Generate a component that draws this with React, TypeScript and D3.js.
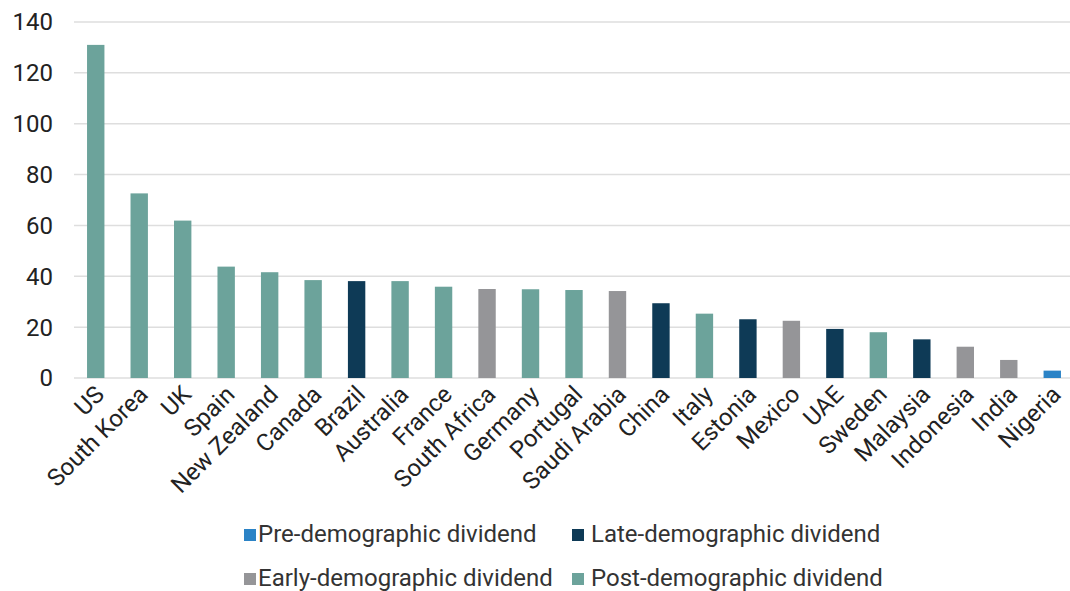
import React from 'react'
import * as d3 from 'd3'

// countries, in chart order
const countries = ['US', 'South Korea', 'UK', 'Spain', 'New Zealand', 'Canada', 'Brazil', 'Australia', 'France',
    'South Africa', 'Germany', 'Portugal', 'Saudi Arabia', 'China', 'Italy', 'Estonia', 'Mexico', 'UAE', 'Sweden',
    'Malaysia', 'Indonesia', 'India', 'Nigeria']
const values = [131, 72.6, 61.9, 43.8, 41.6, 38.5, 38.1, 38.1, 35.9, 35.0, 34.9, 34.6, 34.2, 29.4, 25.3, 23.1,
    22.5, 19.3, 18.0, 15.2, 12.3, 7.1, 2.9]
const groups = ['post', 'post', 'post', 'post', 'post', 'post', 'late', 'post', 'post', 'early', 'post', 'post',
    'early', 'late', 'post', 'late', 'early', 'late', 'post', 'late', 'early', 'early', 'pre']
const yTicks = [0, 20, 40, 60, 80, 100, 120, 140]

const groupKeys = ['pre', 'late', 'early', 'post']
const groupLabels = ['Pre-demographic dividend', 'Late-demographic dividend', 'Early-demographic dividend', 'Post-demographic dividend']
const groupColors = ['#2b83c6', '#0e3a56', '#959598', '#6ca39b']

const width = 1070, height = 591
const margin = { top: 22, right: -4, bottom: 213, left: 74 }

const App = () => {
    const x = d3.scaleBand()
        .domain(countries)
        .range([margin.left, width - margin.right])
        .paddingInner(0.6)
        .paddingOuter(0.3)
    const y = d3.scaleLinear()
        .domain([0, 140])
        .range([height - margin.bottom, margin.top])
    const color = d3.scaleOrdinal<string, string>().domain(groupKeys).range(groupColors)

    // legend slots (two rows, two columns)
    const legendPos = [[244, 534], [572, 534], [244, 578], [572, 578]]

    return (
        <svg width={width} height={height} style={{ position: 'absolute', left: 0, top: 0, fontFamily: 'Roboto, sans-serif' }}>
            <rect width={width} height={height} fill="#fff" />
            {yTicks.map(t => (
                <g key={t}>
                    <line x1={margin.left} x2={width} y1={y(t)} y2={y(t)} stroke="#dedede" strokeWidth={1.5} />
                    <text x={53} y={y(t)} dy="0.35em" textAnchor="end" fontSize={24} fill="#222">{t}</text>
                </g>
            ))}
            {countries.map((c, i) => (
                <rect key={c} x={x(c)} y={y(values[i])} width={x.bandwidth()} height={y(0) - y(values[i])}
                    fill={color(groups[i])} />
            ))}
            {countries.map(c => {
                const cx = (x(c) as number) + x.bandwidth() / 2 + 4
                const cy = y(0) + 12
                return (
                    <text key={c} transform={`translate(${cx},${cy}) rotate(-45)`} textAnchor="end" dy="0.35em"
                        fontSize={24} fill="#222">{c}</text>
                )
            })}
            {groupKeys.map((g, i) => (
                <g key={g} transform={`translate(${legendPos[i][0]},${legendPos[i][1]})`}>
                    <rect x={0} y={-5} width={12} height={12} fill={color(g)} />
                    <text x={i % 2 === 0 ? 14 : 19} dy="0.35em" fontSize={24} fill="#333">{groupLabels[i]}</text>
                </g>
            ))}
        </svg>
    )
}

export default App
